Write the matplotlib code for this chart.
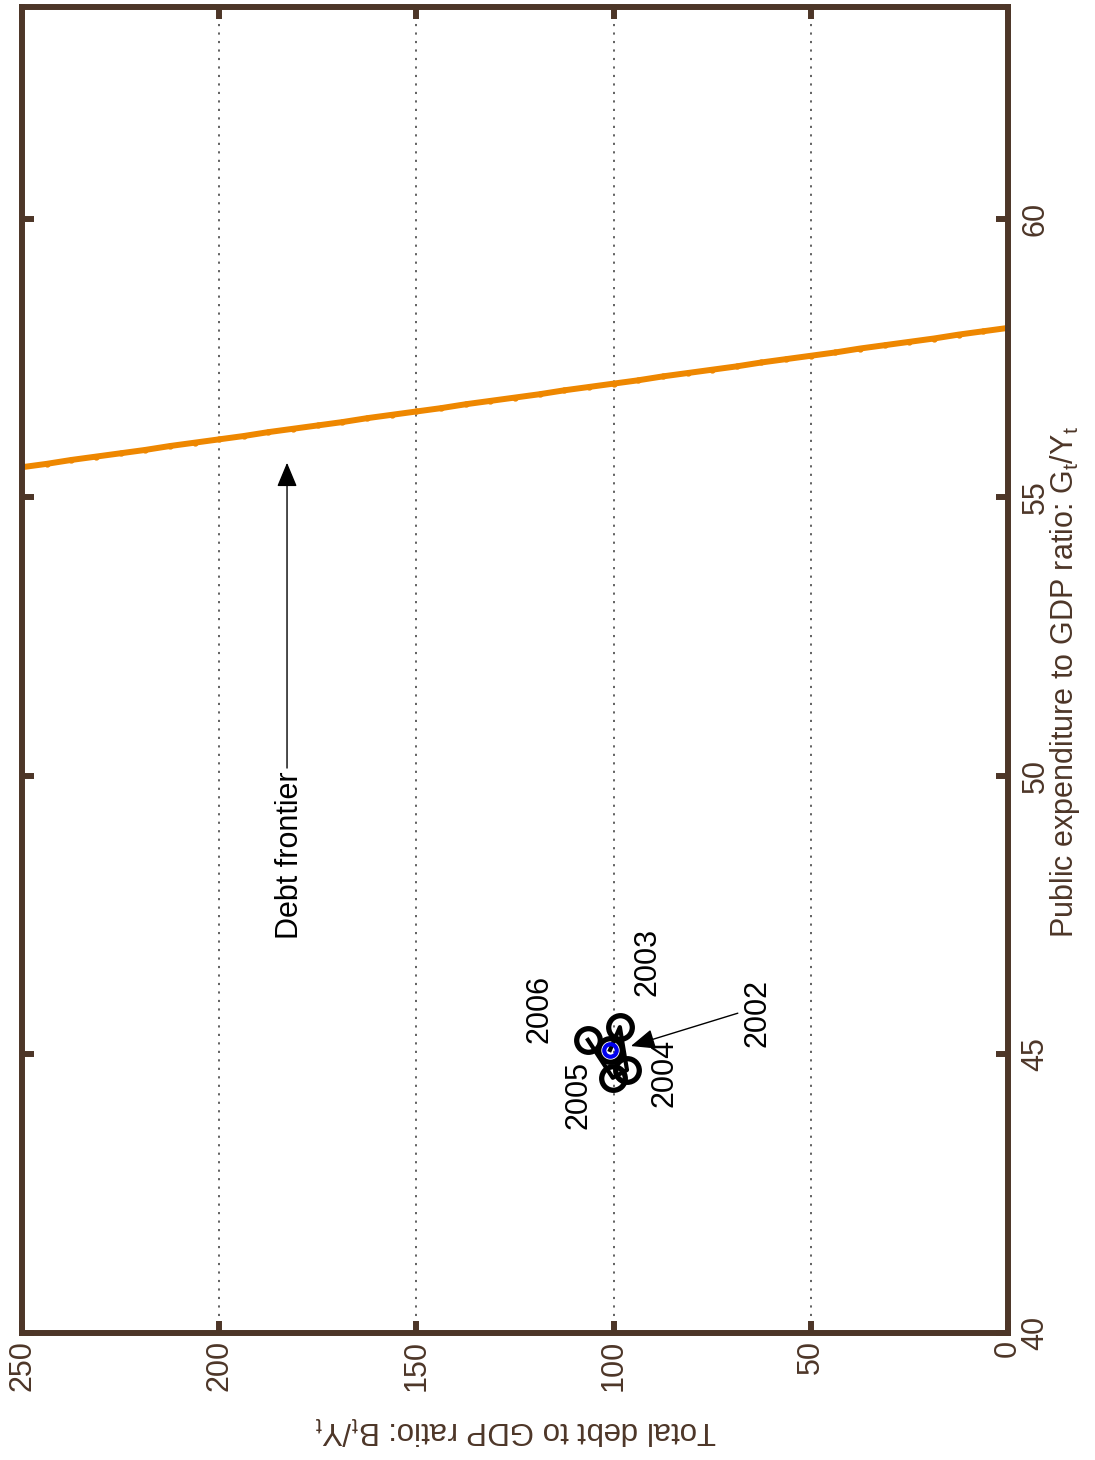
import matplotlib
matplotlib.use('Agg')
import matplotlib.pyplot as plt

plt.rcParams['font.family'] = ['Liberation Sans', 'DejaVu Sans']
plt.rcParams['mathtext.fontset'] = 'custom'
plt.rcParams['mathtext.rm'] = 'Liberation Sans'
plt.rcParams['mathtext.it'] = 'Liberation Sans'
plt.rcParams['mathtext.default'] = 'regular'

# ---------------- data ----------------
frontier_debt = [0, 6.25, 12.5, 18.75, 25, 31.25, 37.5, 43.75, 50, 56.25,
                 62.5, 68.75, 75, 81.25, 87.5, 93.75, 100, 106.25, 112.5, 118.75,
                 125, 131.25, 137.5, 143.75, 150, 156.25, 162.5, 168.75, 175, 181.25,
                 187.5, 193.75, 200, 206.25, 212.5, 218.75, 225, 231.25, 237.5, 243.75, 250]
frontier_gy = [58.04, 57.98, 57.92, 57.85, 57.79, 57.73, 57.67, 57.60, 57.54, 57.48,
               57.42, 57.35, 57.29, 57.23, 57.17, 57.10, 57.04, 56.98, 56.92, 56.85,
               56.79, 56.73, 56.67, 56.60, 56.54, 56.48, 56.42, 56.35, 56.29, 56.23,
               56.17, 56.10, 56.04, 55.98, 55.92, 55.85, 55.79, 55.73, 55.67, 55.60, 55.54]

years = ['2002', '2003', '2004', '2005', '2006']
obs_debt = [100.9, 98.4, 96.6, 100.2, 106.5]
obs_gy = [45.08, 45.49, 44.72, 44.58, 45.26]

debt_ticks = [0, 50, 100, 150, 200, 250]
debt_grid = [50, 100, 150, 200]
gy_ticks = [40, 45, 50, 55, 60]

# label positions (data coords)
year_label_pos = [(63.6, 45.74), (91.3, 46.66), (87.0, 44.67), (109.0, 44.27), (118.7, 45.82)]

BROWN = '#4d3628'
ORANGE = '#ee8700'

fig = plt.figure(figsize=(10.95, 14.6), dpi=100)
ax = fig.add_axes([0.0201, 0.0870, 0.9004, 0.9082])
ax.set_xlim(250, 0)
ax.set_ylim(40, 63.8)

for d in debt_grid:
    ax.axvline(d, color='#555555', lw=1.3, ls=(0, (1.2, 3.5)), zorder=1)

ax.plot(frontier_debt, frontier_gy, color=ORANGE, lw=4.3, marker='.', ms=7,
        zorder=3, solid_capstyle='butt')

ax.plot(obs_debt, obs_gy, color='black', lw=3.0, zorder=4)
ax.plot(obs_debt, obs_gy, 'o', mfc='none', mec='black', ms=17, mew=3.8, zorder=5)
ax.plot([obs_debt[0]], [obs_gy[0]], 'o', mfc='none', mec='#0000ee', ms=9, mew=3.0, zorder=6)

for yr, (px, py) in zip(years, year_label_pos):
    ax.text(px, py, yr, rotation=90, ha='center', va='center', fontsize=22, color='black', zorder=7)

ax.annotate('', xy=(95.6, 45.15), xytext=(68.5, 45.74),
            arrowprops=dict(arrowstyle='-|>,head_length=0.6,head_width=0.25', color='black',
                            lw=1.0, mutation_scale=25, shrinkA=0, shrinkB=0), zorder=7)

ax.text(182.0, 48.58, 'Debt frontier', rotation=90, ha='center', va='center', fontsize=22,
        color='black', zorder=7)
ax.annotate('', xy=(182.8, 55.62), xytext=(182.8, 50.14),
            arrowprops=dict(arrowstyle='-|>,head_length=0.6,head_width=0.25', color='black',
                            lw=1.0, mutation_scale=25, shrinkA=0, shrinkB=0), zorder=7)

ax.set_xticks(debt_ticks)
ax.set_xticklabels([str(t) for t in debt_ticks])
ax.set_yticks(gy_ticks)
ax.set_yticklabels([str(t) for t in gy_ticks])

ax.tick_params(axis='both', direction='in', length=8.5, width=4.3, color=BROWN,
               labelcolor=BROWN, labelsize=22, top=True, right=True, left=True, bottom=True)
ax.tick_params(axis='y', labelleft=False, labelright=True, pad=9)
ax.tick_params(axis='x', pad=5)
for lab in ax.get_xticklabels():
    lab.set_rotation(90)
    lab.set_ha('center')
    lab.set_va('top')
for lab in ax.get_yticklabels():
    lab.set_rotation(90)
    lab.set_ha('left')
    lab.set_va('center')

for sp in ax.spines.values():
    sp.set_linewidth(4.3)
    sp.set_color(BROWN)
    sp.set_zorder(8)

fig.text(0.973, 0.533, 'Public expenditure to GDP ratio: G$_t$/Y$_t$', rotation=90,
         ha='center', va='center', fontsize=22, color=BROWN)
fig.text(0.471, 0.0205, 'Total debt to GDP ratio: B$_t$/Y$_t$', rotation=180,
         ha='center', va='center', fontsize=22.5, color=BROWN)

fig.savefig('out.png', dpi=100)
